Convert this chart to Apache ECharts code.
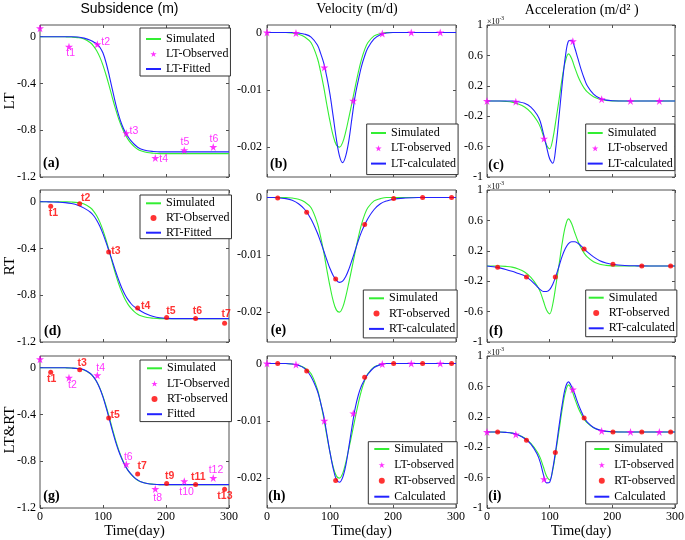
<!DOCTYPE html>
<html><head><meta charset="utf-8">
<script src="https://cdn.jsdelivr.net/npm/echarts@6/dist/echarts.min.js"></script>
<style>html,body{margin:0;padding:0;background:#fff}#c{width:685px;height:540px}</style>
</head><body><div id="c"></div>
<script>
// ---------------- data ----------------
const days = [0,10,20,30,40,50,60,70,80,85,90,95,100,105,110,115,120,125,130,135,140,145,150,155,160,170,180,190,200,220,240,260,280,300];

// Subsidence (m)
const subsSim = [0,0,0,0,-0.001,-0.003,-0.008,-0.02,-0.052,-0.08,-0.12,-0.175,-0.245,-0.33,-0.425,-0.525,-0.62,-0.705,-0.775,-0.835,-0.88,-0.915,-0.942,-0.962,-0.976,-0.991,-0.997,-1,-1,-1,-1,-1,-1,-1];
const subsLT  = [0,0,0,0,0,0,-0.002,-0.012,-0.03,-0.045,-0.06,-0.09,-0.14,-0.225,-0.335,-0.455,-0.572,-0.673,-0.753,-0.813,-0.858,-0.893,-0.922,-0.945,-0.96,-0.976,-0.982,-0.985,-0.985,-0.985,-0.985,-0.985,-0.985,-0.985];
const subsRT  = [0,-0.001,-0.002,-0.004,-0.008,-0.016,-0.03,-0.055,-0.09,-0.118,-0.158,-0.21,-0.275,-0.35,-0.43,-0.51,-0.595,-0.672,-0.74,-0.795,-0.84,-0.875,-0.9,-0.918,-0.935,-0.963,-0.982,-0.993,-0.998,-1,-1,-1,-1,-1];
const subsAll = [0,0,0,0,-0.001,-0.003,-0.007,-0.018,-0.05,-0.079,-0.12,-0.178,-0.252,-0.342,-0.44,-0.54,-0.635,-0.715,-0.782,-0.838,-0.88,-0.913,-0.94,-0.96,-0.975,-0.99,-0.997,-1,-1,-1,-1,-1,-1,-1];

// Velocity (m/d)
const velSim = [0,0,0,0,-0.0001,-0.0003,-0.0008,-0.0018,-0.0045,-0.0068,-0.0095,-0.0126,-0.0155,-0.018,-0.0196,-0.02,-0.0192,-0.0173,-0.0148,-0.0122,-0.0095,-0.0069,-0.0047,-0.003,-0.0018,-0.0006,-0.0002,0,0,0,0,0,0,0];
const velLT  = [0,0,0,0,0,-0.0001,-0.0003,-0.0008,-0.0022,-0.0036,-0.0053,-0.0078,-0.0108,-0.0146,-0.0185,-0.0215,-0.0227,-0.0215,-0.0188,-0.0148,-0.011,-0.0083,-0.0059,-0.0041,-0.0027,-0.0011,-0.0004,-0.0001,0,0,0,0,0,0];
const velRT  = [0,0,-0.0001,-0.0002,-0.0005,-0.0011,-0.0021,-0.0038,-0.0062,-0.0077,-0.0093,-0.0109,-0.0124,-0.0136,-0.0144,-0.0148,-0.0146,-0.0138,-0.0125,-0.0109,-0.0092,-0.0075,-0.006,-0.0048,-0.0037,-0.0021,-0.0011,-0.0006,-0.0003,-0.0001,0,0,0,0];
const velAll = [0,0,0,0,-0.0001,-0.0003,-0.0009,-0.0023,-0.0048,-0.0068,-0.0091,-0.0123,-0.0155,-0.0183,-0.0202,-0.0207,-0.0199,-0.0178,-0.0145,-0.011,-0.0078,-0.0055,-0.0039,-0.0028,-0.0019,-0.0007,-0.0002,0,0,0,0,0,0,0];

// Acceleration (x10^-3 m/d^2)
const accSim = [0,0,0,-0.005,-0.015,-0.04,-0.08,-0.15,-0.26,-0.34,-0.46,-0.58,-0.63,-0.5,-0.25,0.02,0.3,0.52,0.62,0.56,0.44,0.33,0.24,0.17,0.12,0.055,0.022,0.008,0.002,0,0,0,0,0];
const accLT  = [0,0,0,0,0,-0.01,-0.03,-0.08,-0.18,-0.27,-0.43,-0.6,-0.76,-0.82,-0.6,-0.2,0.22,0.58,0.79,0.8,0.7,0.56,0.42,0.3,0.2,0.09,0.035,0.012,0.004,0,0,0,0,0];
const accRT  = [0,-0.01,-0.025,-0.045,-0.07,-0.1,-0.13,-0.19,-0.27,-0.31,-0.335,-0.335,-0.31,-0.24,-0.13,0,0.13,0.23,0.295,0.32,0.32,0.3,0.265,0.225,0.185,0.12,0.07,0.04,0.022,0.007,0.002,0,0,0];
const accAll = [0,0,0,-0.005,-0.015,-0.04,-0.085,-0.16,-0.29,-0.4,-0.56,-0.67,-0.66,-0.48,-0.22,0.08,0.36,0.58,0.66,0.6,0.5,0.38,0.28,0.19,0.13,0.06,0.025,0.01,0.003,0,0,0,0,0];

// Observations
const obsDaysLT = [0,46,91,137,183,229,275];
const obsDaysRT = [17,63,109,155,201,247,293];
const subsObsLT = [0.072,-0.086,-0.065,-0.825,-1.037,-0.971,-0.943];
const subsObsRT = [-0.04,-0.017,-0.43,-0.91,-0.99,-1.0,-1.04];
const velObsLTb = [0,-0.0001,-0.0061,-0.0119,-0.0002,0,0];
const velObsRTe = [-0.0001,-0.0026,-0.0142,-0.0047,-0.0002,0,0];
const velObsLTh = [0,-0.0002,-0.010,-0.0087,-0.0001,0,0];
const velObsRTh = [0,-0.0013,-0.0204,-0.0024,0,0,0];
const accObsLTc = [0,-0.01,-0.495,0.786,0.023,0,0];
const accObsRTf = [-0.018,-0.144,-0.144,0.225,0.023,0,0];
const accObsLTi = [0,-0.032,-0.62,0.56,0.014,0,0];
const accObsRTi = [0,-0.11,-0.27,0.185,0,0,0];

// Point tags
const tagsA  = ['','t1','t2','t3','t4','t5','t6'];
const tagsD  = ['t1','t2','t3','t4','t5','t6','t7'];
const tagsGL = ['','t2','t4','t6','t8','t10','t12'];
const tagsGR = ['t1','t3','t5','t7','t9','t11','t13'];

// Tick labels
const xTicks = [0,100,200,300];
const yTicksSubs = [-1.2,-0.8,-0.4,0];
const yTicksVel = [-0.02,-0.01,0];
const yTicksAcc = [-1,-0.6,-0.2,0.2,0.6,1];

// ---------------- layout / style ----------------
const tagOffA  = [[0,0],[1.7,6.6],[8.3,-2.6],[7.6,-2.3],[8.3,1.6],[0.7,-7.7],[0.7,-7.7]];
const tagOffD  = [[2.6,7],[6,-6],[7.3,-1.3],[8,-2.3],[4.3,-6.7],[1.7,-7.3],[1.7,-9]];
const tagOffGL = [[0,0],[3.4,7.7],[3.4,-7],[2,-6.7],[2.3,9],[2.3,10.5],[2.7,-7.7]];
const tagOffGR = [[1,6.6],[2.6,-6.7],[6.4,-3.3],[4.6,-7.6],[3,-7],[2.6,-7.3],[0.3,7]];

const GREEN='#33ee33', BLUE='#2222ff', MAG='#ff00ff', RED='#ff0000', BOX='#505050';
const SERIF='Liberation Serif', SANS='Liberation Sans';
const STAR='path://M50,0L61.2,34.5L97.6,34.5L68.2,55.9L79.4,90.5L50,69.1L20.6,90.5L31.8,55.9L2.4,34.5L38.8,34.5Z';

const colLeft=[40,267,487], colW=[189,189,188], rowTop=[25,190,356], rowH=152;
const yCfg=[
  {min:-1.2,max:0.1,ticks:yTicksSubs,margin:4},
  {min:-0.0252,max:0.0013,ticks:yTicksVel,margin:5},
  {min:-1,max:1,ticks:yTicksAcc,margin:4}
];

const grids=[], xAxes=[], yAxes=[];
const noLine={show:false,onZero:false};
for(let r=0;r<3;r++){for(let c=0;c<3;c++){
  const g=r*3+c;
  grids.push({left:colLeft[c],top:rowTop[r],width:colW[c],height:rowH,show:true,borderColor:BOX,borderWidth:1,backgroundColor:'transparent',containLabel:false,outerBoundsMode:'none'});
  const tick={inside:true,length:3,lineStyle:{color:BOX,width:1}};
  xAxes.push({type:'value',gridIndex:g,min:0,max:300,interval:100,position:'bottom',
    axisLine:noLine,splitLine:{show:false},axisTick:Object.assign({customValues:xTicks},tick),
    axisLabel:{show:r===2,customValues:xTicks,margin:3,fontFamily:SERIF,fontSize:12,color:'#000'},
    name:r===2?'Time(day)':'',nameLocation:'middle',nameGap:15,
    nameTextStyle:{fontFamily:SERIF,fontSize:14.5,color:'#000'}});
  xAxes.push({type:'value',gridIndex:g,min:0,max:300,interval:100,position:'top',
    axisLine:noLine,splitLine:{show:false},axisTick:Object.assign({customValues:xTicks},tick),axisLabel:{show:false}});
  const yc=yCfg[c];
  yAxes.push({type:'value',gridIndex:g,min:yc.min,max:yc.max,position:'left',
    axisLine:noLine,splitLine:{show:false},
    axisTick:Object.assign({customValues:yc.ticks},tick),
    axisLabel:{customValues:yc.ticks,margin:yc.margin,fontFamily:SERIF,fontSize:12,color:'#000',formatter:v=>String(v)}});
  yAxes.push({type:'value',gridIndex:g,min:yc.min,max:yc.max,position:'right',
    axisLine:noLine,splitLine:{show:false},
    axisTick:Object.assign({customValues:yc.ticks},tick),axisLabel:{show:false}});
}}

function line(name,y,color,g){
  return {type:'line',name,xAxisIndex:2*g,yAxisIndex:2*g,data:days.map((d,i)=>[d,y[i]]),
    symbol:'none',showSymbol:false,smooth:0.35,lineStyle:{color,width:1.1},itemStyle:{color},
    silent:true,animation:false,z:2};
}
function obs(name,xs,ys,kind,g,tags,offs,bold){
  const color=kind==='star'?MAG:RED;
  return {type:'scatter',name,xAxisIndex:2*g,yAxisIndex:2*g,
    symbol:kind==='star'?STAR:'circle',symbolSize:kind==='star'?8:5,itemStyle:{color},
    label:{color,fontSize:10.5,fontFamily:SANS,fontWeight:bold?'bold':'normal'},
    data:xs.map((d,i)=>{const it={value:[d,ys[i]]};
      if(tags&&tags[i]){it.label={show:true,formatter:tags[i],position:'inside',offset:offs[i]};}
      return it;}),
    silent:true,animation:false,z:3};
}

const series=[
  line('Simulated',subsSim,GREEN,0), line('LT-Fitted',subsLT,BLUE,0),
  obs('LT-Observed',obsDaysLT,subsObsLT,'star',0,tagsA,tagOffA,false),
  line('Simulated',velSim,GREEN,1), line('LT-calculated',velLT,BLUE,1),
  obs('LT-observed',obsDaysLT,velObsLTb,'star',1),
  line('Simulated',accSim,GREEN,2), line('LT-calculated',accLT,BLUE,2),
  obs('LT-observed',obsDaysLT,accObsLTc,'star',2),
  line('Simulated',subsSim,GREEN,3), line('RT-Fitted',subsRT,BLUE,3),
  obs('RT-Observed',obsDaysRT,subsObsRT,'dot',3,tagsD,tagOffD,true),
  line('Simulated',velSim,GREEN,4), line('RT-calculated',velRT,BLUE,4),
  obs('RT-observed',obsDaysRT,velObsRTe,'dot',4),
  line('Simulated',accSim,GREEN,5), line('RT-calculated',accRT,BLUE,5),
  obs('RT-observed',obsDaysRT,accObsRTf,'dot',5),
  line('Simulated',subsSim,GREEN,6), line('Fitted',subsAll,BLUE,6),
  obs('LT-Observed',obsDaysLT,subsObsLT,'star',6,tagsGL,tagOffGL,false),
  obs('RT-observed',obsDaysRT,subsObsRT,'dot',6,tagsGR,tagOffGR,true),
  line('Simulated',velSim,GREEN,7), line('Calculated',velAll,BLUE,7),
  obs('LT-observed',obsDaysLT,velObsLTh,'star',7),
  obs('RT-observed',obsDaysRT,velObsRTh,'dot',7),
  line('Simulated',accSim,GREEN,8), line('Calculated',accAll,BLUE,8),
  obs('LT-observed',obsDaysLT,accObsLTi,'star',8),
  obs('RT-observed',obsDaysRT,accObsRTi,'dot',8)
];
const lineNames=new Set(series.filter(s=>s.type==='line').map(s=>s.name));

const legendDefs=[
  {items:['Simulated','LT-Observed','LT-Fitted'],left:140,top:28,pad:[5,2,1,5],gap:3},
  {items:['Simulated','LT-observed','LT-calculated'],left:366.7,top:124,pad:[3,2,5,3.3],gap:3.3},
  {items:['Simulated','LT-observed','LT-calculated'],left:585.7,top:124,pad:[3,2,1,1],gap:3.3},
  {items:['Simulated','RT-Observed','RT-Fitted'],left:140,top:195,pad:[2.3,2,0,5],gap:2.7},
  {items:['Simulated','RT-observed','RT-calculated'],left:363.3,top:290,pad:[2.3,2,3,4.7],gap:3.3},
  {items:['Simulated','RT-observed','RT-calculated'],left:585.7,top:290,pad:[1.7,2,2.4,2],gap:3.3},
  {items:['Simulated','LT-Observed','RT-observed','Fitted'],left:140,top:360,pad:[2.3,2,1.4,6],gap:3.3},
  {items:['Simulated','LT-observed','RT-observed','Calculated'],left:368.3,top:441.7,pad:[1.3,2,1.3,5],gap:3.9},
  {items:['Simulated','LT-observed','RT-observed','Calculated'],left:585.7,top:441.7,pad:[1.3,2,1.3,7.6],gap:3.9}
];
const legends=legendDefs.map(L=>({
  data:L.items.map(n=>lineNames.has(n)?{name:n,itemStyle:{opacity:0}}:{name:n}),
  left:L.left,top:L.top,orient:'vertical',padding:L.pad,itemGap:L.gap,
  itemWidth:15,itemHeight:6,selectedMode:false,backgroundColor:'#fff',borderColor:'#333',borderWidth:1,borderRadius:0,
  textStyle:{fontFamily:SERIF,fontSize:12,color:'#000'},z:5}));

const graphics=[];
function txt(x,y,text,size,o){o=o||{};
  graphics.push({type:'text',x,y,rotation:o.rot||0,z:10,silent:true,
    style:{text,fontSize:size,fontFamily:o.family||SERIF,fontWeight:o.weight||'normal',fill:'#000',
      align:o.align||'center',verticalAlign:'middle'}});}
txt(129.5,9.5,'Subsidence (m)',14,{family:SANS});
txt(357,9.5,'Velocity (m/d)',14);
txt(581.7,10,'Acceleration (m/d² )',14);
txt(10,101,'LT',15,{rot:Math.PI/2});
txt(10,266,'RT',15,{rot:Math.PI/2});
txt(10,430,'LT&RT',15,{rot:Math.PI/2});
const panelTags=[['(a)',43,163.3],['(b)',270,164],['(c)',488.3,165],['(d)',44,331.7],['(e)',270.7,330.5],['(f)',489,331.7],['(g)',43.3,496.7],['(h)',268.3,496.7],['(i)',488.3,496.7]];
panelTags.forEach(p=>txt(p[1],p[2],p[0],14,{weight:'bold',align:'left'}));
rowTop.forEach(t=>{txt(487,t-3.5,'×10',8,{align:'left'});txt(499.5,t-6,'-3',5.5,{align:'left'});});

const chart=echarts.init(document.getElementById('c'),null,{renderer:'canvas'});
chart.setOption({animation:false,backgroundColor:'#fff',grid:grids,xAxis:xAxes,yAxis:yAxes,series,legend:legends,graphic:graphics});
</script></body></html>
